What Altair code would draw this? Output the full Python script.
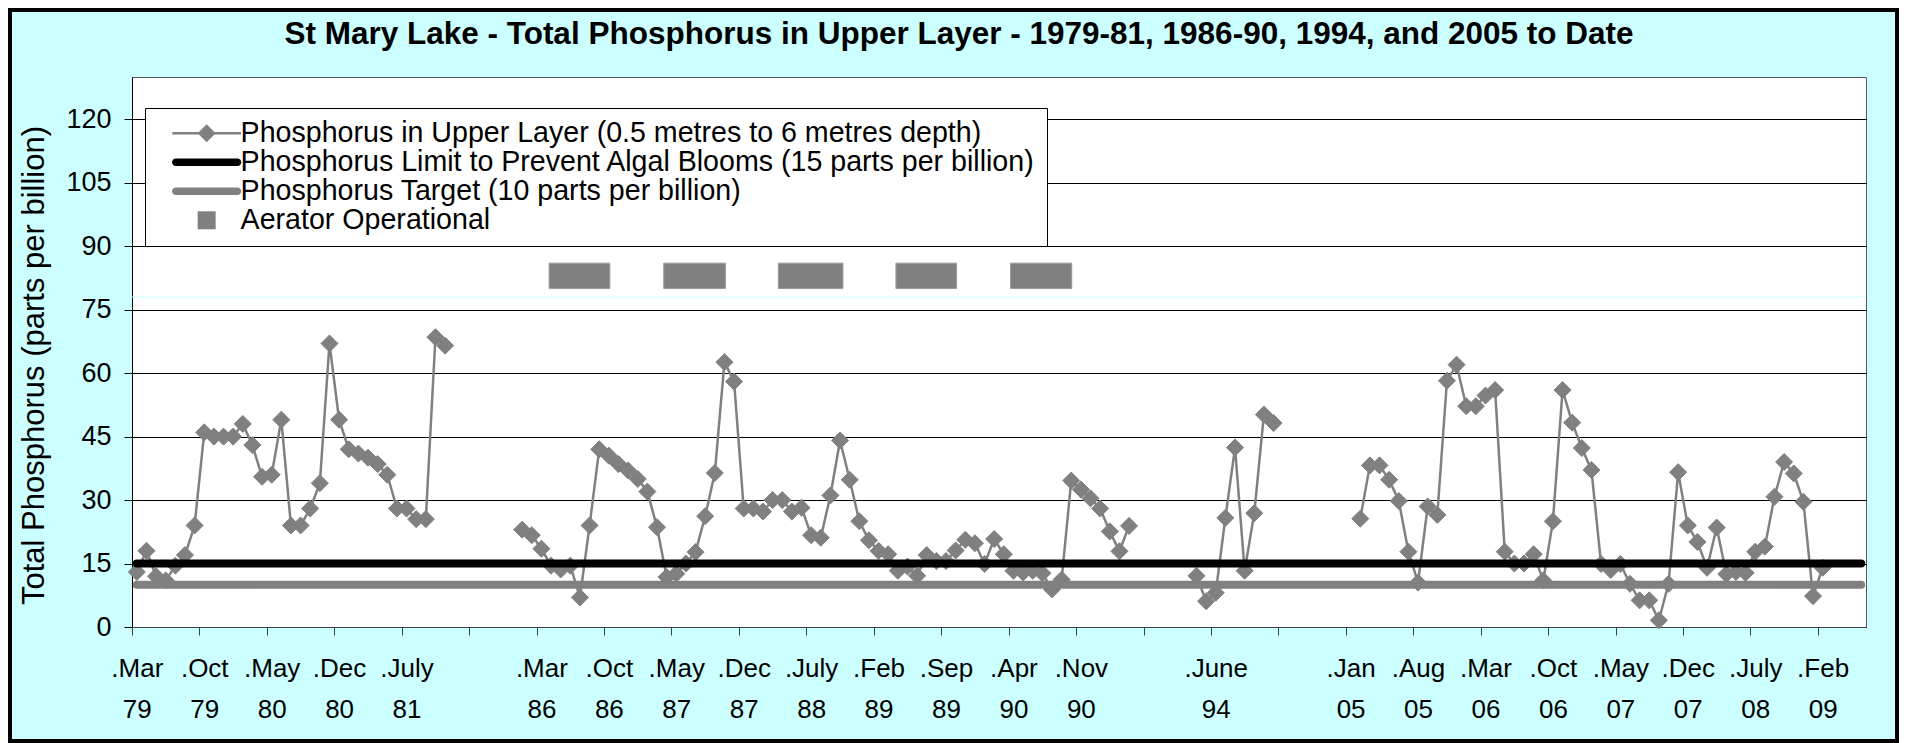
import json
import altair as alt
import pandas as pd

# ---------------- data ----------------
# one value per category (monthly sample slot); None = no sample
phosphorus = [
    13, 18, 12, 11, 14.5, 17, 24, 46, 45, 45,          # 0-9
    45, 48, 43, 35.5, 36, 49, 24, 24, 28, 34,          # 10-19
    67, 49, 42, 41, 40, 38.5, 36, 28, 28, 25.5,        # 20-29
    25.5, 68.5, 66.5, None, None, None, None, None, None, None,  # 30-39
    23, 21.7, 18.5, 14.5, 13.6, 14.5, 7, 24, 42, 40.5,  # 40-49
    38.5, 37, 35, 32, 23.6, 11.8, 12.6, 15, 17.7, 26.2,  # 50-59
    36.4, 62.6, 58, 28, 28, 27.3, 30, 30, 27.3, 28.2,  # 60-69
    21.7, 21.1, 31.1, 44.1, 34.8, 25, 20.5, 18, 17.2, 13.3,  # 70-79
    14.3, 12.1, 17, 15.6, 15.6, 18.1, 20.6, 19.8, 14.9, 20.8,  # 80-89
    17.2, 13.3, 12.9, 13.3, 12.7, 8.9, 11.2, 34.6, 32.5, 30.4,  # 90-99
    28, 22.6, 17.9, 23.9, None, None, None, None, None, None,  # 100-109
    12.1, 6.1, 8.1, 25.8, 42.4, 13.3, 26.9, 50.2, 48.2, None,  # 110-119
    None, None, None, None, None, None, None, 25.6, 38.2, 38.2,  # 120-129
    34.8, 29.8, 17.8, 10.5, 28.5, 26.5, 58.2, 62, 52.2, 52.2,  # 130-139
    54.7, 56, 17.8, 15, 15, 17.2, 11, 25, 56, 48.3,    # 140-149
    42.3, 37.1, 14.9, 13.5, 14.9, 10.2, 6.3, 6.3, 1.6, 10.2,  # 150-159
    36.6, 24, 20.1, 14, 23.5, 12.5, 13, 12.8, 17.8, 19,  # 160-169
    30.8, 39, 36.3, 29.6, 7.3, 14, None, None, None, None,  # 170-179
]
n_categories = len(phosphorus)
label_every = 7

month_labels = [".Mar", ".Oct", ".May", ".Dec", ".July", "",
                ".Mar", ".Oct", ".May", ".Dec", ".July", ".Feb", ".Sep", ".Apr", ".Nov", "",
                ".June", "",
                ".Jan", ".Aug", ".Mar", ".Oct", ".May", ".Dec", ".July", ".Feb"]
year_labels = ["79", "79", "80", "80", "81", "",
               "86", "86", "87", "87", "88", "89", "89", "90", "90", "",
               "94", "",
               "05", "05", "06", "06", "07", "07", "08", "09"]

limit_value = 15
target_value = 10
faint_line_value = 78

aerator_start = [43.3, 55.2, 67.1, 79.3, 91.2]
aerator_end = [49.6, 61.6, 73.8, 85.6, 97.55]
aerator_low = 80
aerator_high = 86

series_names = [
    "Phosphorus in Upper Layer (0.5 metres to 6 metres depth)",
    "Phosphorus Limit to Prevent Algal Blooms (15 parts per billion)",
    "Phosphorus Target (10 parts per billion)",
    "Aerator Operational",
]
series_colors = ["#808080", "#000000", "#808080", "#808080"]

# ---------------- layout ----------------
W, H = 1734, 550
PAD_L, PAD_T, PAD_R, PAD_B = 124, 69, 33, 116
FONT = "Liberation Sans"
GRAY = "#808080"

# build tables
rows = []
seg = 0
prev_none = True
for i, v in enumerate(phosphorus):
    if v is None:
        prev_none = True
        continue
    if prev_none:
        seg += 1
        prev_none = False
    rows.append({"x": i + 0.5, "value": v, "segment": seg})
df = pd.DataFrame(rows)

aer = pd.DataFrame({"start": aerator_start, "end": aerator_end})
limit_df = pd.DataFrame({"x0": [0.5], "x1": [n_categories - 0.5], "y": [limit_value]})
target_df = pd.DataFrame({"x0": [0.5], "x1": [n_categories - 0.5], "y": [target_value]})
leg = pd.DataFrame({"name": series_names})
one = pd.DataFrame({"k": [0]})

xscale = alt.Scale(domain=[0, n_categories], nice=False, zero=False)
yscale = alt.Scale(domain=[0, 130], nice=False)

pairs = [[m, y] for m, y in zip(month_labels, year_labels)]
label_expr = json.dumps(pairs) + f"[round(datum.value / {label_every})]"

x_axis = alt.Axis(values=list(range(0, n_categories, label_every)), labelExpr=label_expr,
                  title=None, grid=False, tickSize=8, tickColor="#404040", domainColor="#404040",
                  labelFontSize=26, labelFont=FONT, labelColor="black", labelLineHeight=41,
                  labelPadding=20, labelOffset=4.8, labelFlush=False, labelOverlap=False,
                  labelBound=False)
y_axis = alt.Axis(values=list(range(0, 121, 15)), title="Total Phosphorus (parts per billion)",
                  grid=True, gridColor="black", gridWidth=1, tickSize=8, tickColor="black",
                  domainColor="black", labelFontSize=27, labelFont=FONT, labelColor="black",
                  labelPadding=13, titleFont=FONT, titleFontSize=31, titleFontWeight="normal",
                  titleColor="black", titleX=-98, titleY=288, titleAngle=-90,
                  titleAlign="center", titleBaseline="middle")

frame = alt.Chart(one).mark_rect(fillOpacity=0, stroke="black", strokeWidth=4).encode(
    x=alt.value(-PAD_L + 2), x2=alt.value(W + PAD_R - 2),
    y=alt.value(-PAD_T + 2), y2=alt.value(H + PAD_B - 2))

faint = alt.Chart(one).mark_rule(color="#CCFFFF", strokeWidth=1).encode(
    y=alt.datum(faint_line_value, scale=yscale))

aer_layer = alt.Chart(aer).mark_rect(color=GRAY, stroke="#9a9a9a", strokeWidth=1).encode(
    x=alt.X("start:Q", scale=xscale, axis=x_axis), x2="end:Q",
    y=alt.datum(aerator_low, scale=yscale), y2=alt.datum(aerator_high))

line = alt.Chart(df).mark_line(color=GRAY, strokeWidth=2.5).encode(
    x=alt.X("x:Q", scale=xscale, axis=x_axis),
    y=alt.Y("value:Q", scale=yscale, axis=y_axis),
    detail="segment:N")

pts = alt.Chart(df).mark_point(shape="diamond", filled=True, size=290, color=GRAY,
                               opacity=1, stroke=GRAY, strokeWidth=1).encode(
    x=alt.X("x:Q", scale=xscale, axis=x_axis),
    y=alt.Y("value:Q", scale=yscale, axis=y_axis))

limit_layer = alt.Chart(limit_df).mark_rule(strokeWidth=8, strokeCap="round", color="black").encode(
    x=alt.X("x0:Q", scale=xscale, axis=x_axis), x2="x1:Q",
    y=alt.Y("y:Q", scale=yscale, axis=y_axis))
target_layer = alt.Chart(target_df).mark_rule(strokeWidth=8, strokeCap="round", color=GRAY).encode(
    x=alt.X("x0:Q", scale=xscale, axis=x_axis), x2="x1:Q",
    y=alt.Y("y:Q", scale=yscale, axis=y_axis))

# custom legend symbols (units of symbol radius)
legend_paths = [
    "M0.22,-0.14H7.86V0.14H0.22Z M3.04,0L4.04,-1L5.04,0L4.04,1Z",
    "M0.62,-0.42H7.46A0.42,0.42,0,0,1,7.46,0.42H0.62A0.42,0.42,0,0,1,0.62,-0.42Z",
    "M0.62,-0.42H7.46A0.42,0.42,0,0,1,7.46,0.42H0.62A0.42,0.42,0,0,1,0.62,-0.42Z",
    "M3.04,-1H5.04V1H3.04Z",
]
leg_props = dict(title=None, orient="none", legendX=13, legendY=31, fillColor="white",
                 strokeColor="black", padding=11, labelFontSize=28.6, labelFont=FONT,
                 labelColor="black", labelOffset=56, labelLimit=2000, rowPadding=-1.5,
                 symbolStrokeWidth=0, symbolSize=324, symbolOpacity=1)
legend_layer = alt.Chart(leg).mark_point(filled=True, clip=True, size=324, opacity=1).encode(
    x=alt.value(-2000), y=alt.value(-2000),
    color=alt.Color("name:N", scale=alt.Scale(domain=series_names, range=series_colors),
                    legend=alt.Legend(**leg_props)),
    shape=alt.Shape("name:N", scale=alt.Scale(domain=series_names, range=legend_paths),
                    legend=alt.Legend(**leg_props)))

chart = alt.layer(frame, faint, aer_layer, line, pts, limit_layer, target_layer,
                  legend_layer).properties(
    width=W, height=H,
    padding={"left": PAD_L, "top": PAD_T, "right": PAD_R, "bottom": PAD_B},
    autosize=alt.AutoSizeParams(type="none"),
    background="#CCFFFF",
    title=alt.TitleParams(
        "St Mary Lake - Total Phosphorus in Upper Layer - 1979-81, 1986-90, 1994, and 2005 to Date",
        font=FONT, fontSize=31.5, fontWeight="bold", color="black", anchor="middle",
        dx=-40, offset=-67, baseline="alphabetic"),
).configure_view(fill="white", stroke="#555555", strokeWidth=1)

chart.save("out.html", embed_options={"renderer": "svg", "actions": False})
